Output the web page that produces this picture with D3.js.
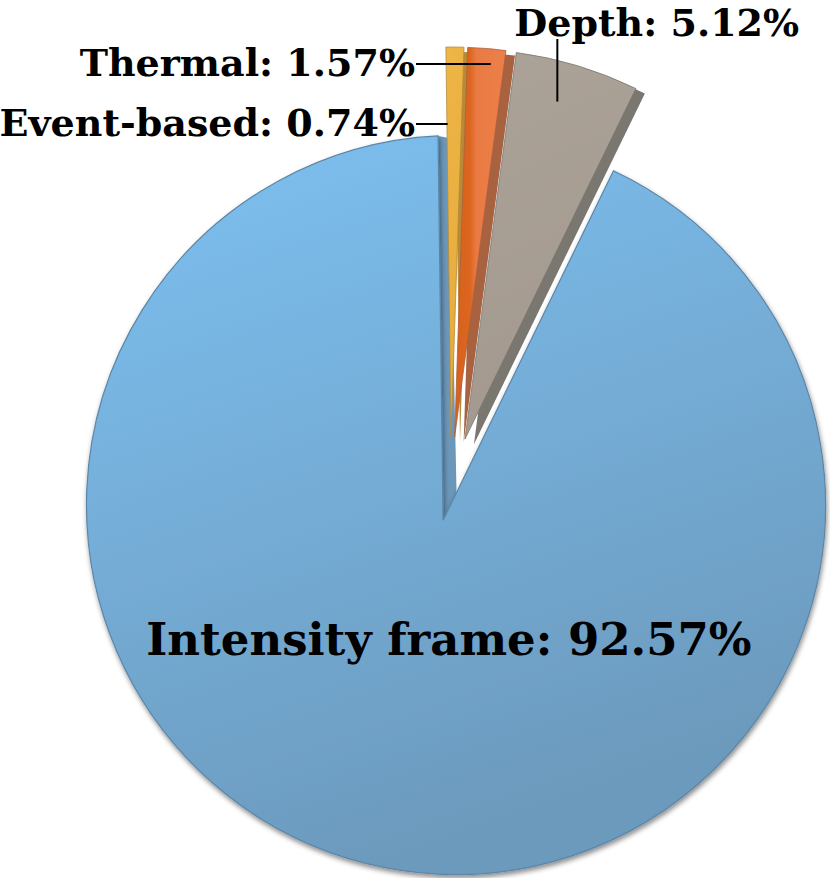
<!DOCTYPE html>
<html><head><meta charset="utf-8">
<script src="https://cdn.jsdelivr.net/npm/d3@7"></script>
<style>html,body{margin:0;padding:0;background:#fff;} svg{display:block;}</style>
</head><body>
<svg id="chart" width="830" height="878"></svg>
<script>
// ---- data ----
const categories = ["Event-based", "Thermal", "Depth", "Intensity frame"];
const values = [0.74, 1.57, 5.12, 92.57];
const faceTop = ["#eeb647", "#ec7e47", "#aca398", "#7dc1f2"];
const faceBottom = ["#e5aa3a", "#e9783f", "#a3998e", "#6c9abd"];
const wallColors = ["#b88a37", "#a8623f", "#7a7670", "#6b97ba"];

// ---- layout ----
const svg = d3.select("#chart");
const rot = -0.75 * Math.PI / 180;
const pie = d3.pie().sort(null).value(d => d).startAngle(rot).endAngle(rot + 2 * Math.PI);
const arcs = pie(values);
const center = {x: 450.5, y: 487};
const explode = [50, 50, 50, 34];
const smallR = 390;
const bigCircle = {x: 456, y: 505, r: 369.5};
const wallShift = {x: 9, y: 5};

function apexOf(a, i) {
  const m = (a.startAngle + a.endAngle) / 2;
  return {x: center.x + explode[i] * Math.sin(m), y: center.y - explode[i] * Math.cos(m)};
}
function polar(o, ang, r) { return {x: o.x + r * Math.sin(ang), y: o.y - r * Math.cos(ang)}; }
function rayHit(o, ang, c) {
  const d = {x: Math.sin(ang), y: -Math.cos(ang)};
  const f = {x: o.x - c.x, y: o.y - c.y};
  const b = f.x * d.x + f.y * d.y;
  const cc = f.x * f.x + f.y * f.y - c.r * c.r;
  const t = -b + Math.sqrt(b * b - cc);
  return {x: o.x + t * d.x, y: o.y + t * d.y};
}

// ---- defs ----
const defs = svg.append("defs");
arcs.forEach((a, i) => {
  const g = defs.append("linearGradient").attr("id", "face" + i)
    .attr("x1", 0).attr("y1", 0).attr("x2", i === 3 ? 0.35 : 0.2).attr("y2", 1);
  g.append("stop").attr("offset", "0%").attr("stop-color", faceTop[i]);
  g.append("stop").attr("offset", "100%").attr("stop-color", faceBottom[i]);
});
const og = defs.append("linearGradient").attr("id", "orangeBand").attr("x1", 0).attr("y1", 0).attr("x2", 1).attr("y2", 0);
og.append("stop").attr("offset", "0%").attr("stop-color", "#d8601c");
og.append("stop").attr("offset", "30%").attr("stop-color", "#dc661f");
og.append("stop").attr("offset", "42%").attr("stop-color", "#ea7a44");
og.append("stop").attr("offset", "100%").attr("stop-color", "#ec7f49");
const sh = defs.append("filter").attr("id", "shadow").attr("x", "-10%").attr("y", "-10%").attr("width", "120%").attr("height", "120%");
sh.append("feDropShadow").attr("dx", 1).attr("dy", 3).attr("stdDeviation", 2.5)
  .attr("flood-color", "#000").attr("flood-opacity", 0.45);

// ---- big slice (Intensity frame) ----
const ba = arcs[3];
const bApex = apexOf(ba, 3);
const p0 = rayHit(bApex, ba.startAngle, bigCircle);
const p1 = rayHit(bApex, ba.endAngle, bigCircle);
const a0 = Math.atan2(p0.y - bigCircle.y, p0.x - bigCircle.x);
const a1 = Math.atan2(p1.y - bigCircle.y, p1.x - bigCircle.x);
const bp = d3.path();
bp.moveTo(bApex.x, bApex.y); bp.lineTo(p0.x, p0.y);
bp.arc(bigCircle.x, bigCircle.y, bigCircle.r, a0, a1, false); bp.closePath();

const wp = d3.path();
wp.moveTo(p1.x, p1.y); wp.lineTo(bApex.x, bApex.y);
wp.lineTo(bApex.x + 14, bApex.y - 3); wp.lineTo(p1.x + 11, p1.y + 2); wp.closePath();
svg.append("path").attr("d", wp.toString()).attr("fill", wallColors[3]);

svg.append("path").attr("d", bp.toString())
  .attr("fill", "url(#face3)").attr("stroke", "#5b86a8").attr("stroke-width", 1.2)
  .attr("filter", "url(#shadow)");

// ---- small exploded slices ----
const smallArc = d3.arc().innerRadius(0).outerRadius(smallR);
const small = arcs.slice(0, 3).map((a, i) => ({a, i, apex: apexOf(a, i)}));
svg.selectAll("path.wall").data(small).join("path").attr("class", "wall")
  .attr("transform", d => `translate(${d.apex.x + wallShift.x},${d.apex.y + wallShift.y})`)
  .attr("d", d => smallArc(d.a)).attr("fill", d => wallColors[d.i]);
svg.selectAll("path.face").data(small).join("path").attr("class", "face")
  .attr("transform", d => `translate(${d.apex.x},${d.apex.y})`)
  .attr("d", d => smallArc(d.a))
  .attr("fill", d => d.i === 1 ? "url(#orangeBand)" : `url(#face${d.i})`)
  .attr("stroke", d => wallColors[d.i]).attr("stroke-width", 0.8);

// ---- labels ----
const labelText = categories.map((c, i) => `${c}: ${values[i].toFixed(2)}%`);
const font = "'DejaVu Serif', serif";
function leaderPoint(i, frac, r) {
  const a = arcs[i];
  const ang = a.startAngle + frac * (a.endAngle - a.startAngle);
  return polar(apexOf(a, i), ang, r);
}
const txt = svg.append("g").attr("font-family", font).attr("font-weight", "bold")
  .attr("font-size", 38).attr("fill", "#000");
const lineX0 = 416;
[[0, 0.05, 313], [1, 0.64, 375]].forEach(([i, f, r]) => {
  const p = leaderPoint(i, f, r);
  svg.append("line").attr("x1", lineX0).attr("y1", p.y).attr("x2", p.x).attr("y2", p.y)
    .attr("stroke", "#000").attr("stroke-width", 2);
  txt.append("text").attr("x", lineX0 - 1).attr("y", p.y + 12).attr("text-anchor", "end").text(labelText[i]);
});
{
  const p = leaderPoint(2, 0.42, 350);
  svg.append("line").attr("x1", p.x).attr("y1", 39).attr("x2", p.x).attr("y2", p.y)
    .attr("stroke", "#000").attr("stroke-width", 2);
  txt.append("text").attr("x", p.x - 43).attr("y", 36).attr("text-anchor", "start").text(labelText[2]);
}
{
  const p = polar(bApex, 177.5 * Math.PI / 180, 135);
  txt.append("text").attr("x", p.x).attr("y", p.y).attr("text-anchor", "middle")
    .attr("font-size", 45).text(labelText[3]);
}
</script>
</body></html>
